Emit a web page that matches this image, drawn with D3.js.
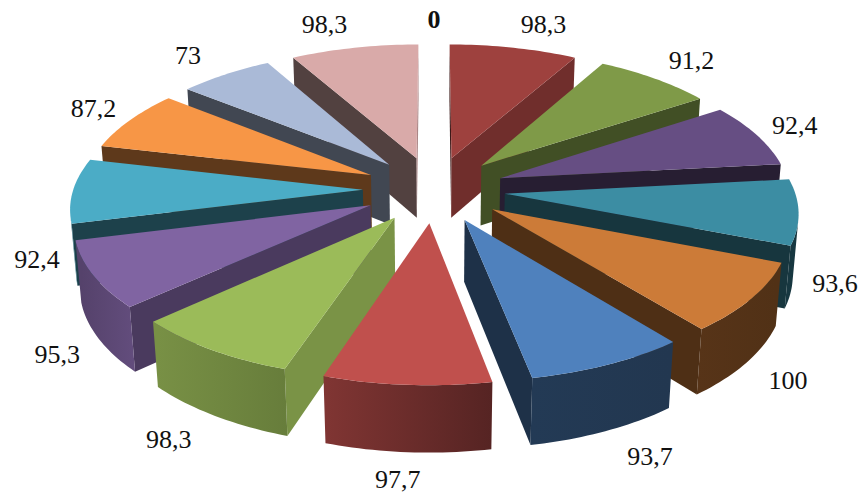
<!DOCTYPE html>
<html>
<head>
<meta charset="utf-8">
<script src="https://cdn.jsdelivr.net/npm/d3@7"></script>
<style>
body { margin: 0; background: #fff; }
text { font-family: "Liberation Serif", serif; font-size: 26px; fill: #111; }
</style>
</head>
<body>
<svg width="866" height="495"></svg>
<script>
const values = [0, 98.3, 91.2, 92.4, 93.6, 100, 93.7, 97.7, 98.3, 95.3, 92.4, 87.2, 73, 98.3];
const labels = ["0", "98,3", "91,2", "92,4", "93,6", "100", "93,7", "97,7", "98,3", "95,3", "92,4", "87,2", "73", "98,3"];
const colors = ["#4f81bd", "#9e413e", "#7f9a48", "#664e83", "#3c8da3", "#cc7b38", "#4f81bd", "#c0504d", "#9bbb59", "#8064a2", "#4bacc6", "#f79646", "#aabad7", "#d9aaa9"];

const cx = 434, cy = 250, R = 285, explode = 70, thick = 0.24;
const tilt = 0.51, dist = 7.5;

const svg = d3.select("svg");
const defs = svg.append("defs");

const arcs = d3.pie().sort(null).value(d => d)(values);

// plane coords: unit radius, y toward viewer, z up
function project(x, y, z) {
    const w = dist - (y * Math.cos(tilt) + z * Math.sin(tilt));
    const s = dist / w;
    return [cx + R * x * s, cy + R * (y * Math.sin(tilt) - z * Math.cos(tilt)) * s];
}

const deg = a => (a * 180 / Math.PI + 360) % 360;
// how much light a side gets, by the direction it faces
const radialShade = d3.scaleLinear().domain([108, 165]).range([0.79, 0.38]).clamp(true);
const rimShade = d3.scaleLinear().domain([90, 170, 200, 230, 280]).range([0.38, 0.45, 0.68, 0.78, 0.55]).clamp(true);

function shaded(color, k) {
    const c = d3.rgb(color);
    return d3.rgb(c.r * k, c.g * k, c.b * k).formatHex();
}

const line = d3.line();
arcs.forEach((d, i) => { d.index = i; d.mid = (d.startAngle + d.endAngle) / 2; });

// far slices first
const order = arcs.filter(d => d.value > 0).sort((a, b) => Math.cos(b.mid) - Math.cos(a.mid));

order.forEach(d => {
    const ox = Math.sin(d.mid) * explode / R, oy = -Math.cos(d.mid) * explode / R;
    const P = (a, r, z) => project(ox + r * Math.sin(a), oy - r * Math.cos(a), z);
    const angles = d3.range(0, 25).map(k => d.startAngle + (d.endAngle - d.startAngle) * k / 24);
    const color = colors[d.index];
    const g = svg.append("g");

    const startFace = [P(d.startAngle, 0, thick), P(d.startAngle, 1, thick), P(d.startAngle, 1, 0), P(d.startAngle, 0, 0)];
    const endFace = [P(d.endAngle, 0, thick), P(d.endAngle, 0, 0), P(d.endAngle, 1, 0), P(d.endAngle, 1, thick)];
    if (d3.polygonArea(startFace) > 0) {
        g.append("path").attr("d", line(startFace) + "Z").attr("fill", shaded(color, radialShade(deg(d.startAngle - Math.PI / 2))));
    }
    if (d3.polygonArea(endFace) > 0) {
        g.append("path").attr("d", line(endFace) + "Z").attr("fill", shaded(color, radialShade(deg(d.endAngle + Math.PI / 2))));
    }

    // outer wall, only the part that faces the viewer
    const seen = angles.filter(a => {
        const p = P(a, 1, 0), q = P(a + 0.01, 1, 0), t = P(a, 1, thick);
        return (q[0] - p[0]) * (t[1] - p[1]) - (q[1] - p[1]) * (t[0] - p[0]) > 0;
    });
    if (seen.length > 1) {
        const id = "w" + d.index;
        const a0 = seen[0], a1 = seen[seen.length - 1];
        const grad = defs.append("linearGradient").attr("id", id).attr("gradientUnits", "userSpaceOnUse")
            .attr("x1", P(a0, 1, 0)[0]).attr("x2", P(a1, 1, 0)[0]).attr("y1", 0).attr("y2", 0);
        grad.append("stop").attr("offset", 0).attr("stop-color", shaded(color, rimShade(deg(a0))));
        grad.append("stop").attr("offset", 1).attr("stop-color", shaded(color, rimShade(deg(a1))));
        const wall = seen.map(a => P(a, 1, thick)).concat(seen.slice().reverse().map(a => P(a, 1, 0)));
        g.append("path").attr("d", line(wall) + "Z").attr("fill", `url(#${id})`);
    }

    const top = [P(0, 0, thick)].concat(angles.map(a => P(a, 1, thick)));
    g.append("path").attr("d", line(top) + "Z").attr("fill", color);
});

// labels sit above the far half and below the near half, pushed out sideways near the vertical
arcs.forEach(d => {
    const r = 1 + explode / R + 0.1;
    const z = Math.cos(d.mid) > 0 ? 0.23 + 0.06 * Math.cos(d.mid) : -0.04;
    const p = project(r * Math.sin(d.mid), -r * Math.cos(d.mid), z);
    const push = Math.sin(d.mid) * (14 + 100 * Math.pow(Math.abs(Math.cos(d.mid)), 6));
    svg.append("text").attr("x", p[0] + push).attr("y", p[1])
        .attr("text-anchor", "middle").attr("dominant-baseline", "middle")
        .attr("font-weight", d.value === 0 ? "bold" : null)
        .text(labels[d.index]);
});
</script>
</body>
</html>
